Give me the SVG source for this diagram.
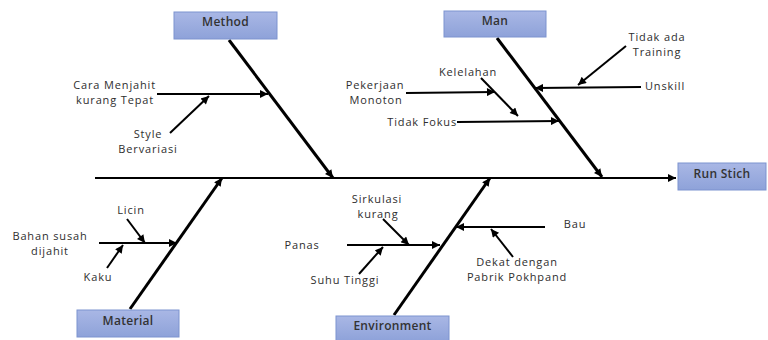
<svg xmlns="http://www.w3.org/2000/svg" width="768" height="340" viewBox="0 0 768 340">
<defs>
<linearGradient id="boxg" x1="0" y1="0" x2="0" y2="1">
<stop offset="0" stop-color="#a9b7e5"/>
<stop offset="1" stop-color="#8ea2d9"/>
</linearGradient>
<marker id="ah" viewBox="0 0 10 10" refX="10" refY="5" markerWidth="10" markerHeight="8" markerUnits="userSpaceOnUse" orient="auto">
<path d="M0,0 L10,5 L0,10 z" fill="#000"/>
</marker>
</defs>
<style>
.box{fill:url(#boxg);stroke:#7d93cf;stroke-width:1}
.t{font-family:"Open Sans","Liberation Sans",sans-serif;font-size:11px;fill:#2e2e2e;letter-spacing:0.85px}
.bt{font-family:"Open Sans","Liberation Sans",sans-serif;font-size:12px;font-weight:600;fill:#333;text-anchor:middle;letter-spacing:0.3px}
.bone{stroke:#000;stroke-width:3;fill:none}
.sub{stroke:#000;stroke-width:2;fill:none}
.arr{marker-end:url(#ah)}
</style>
<rect width="768" height="340" fill="#fff"/>
<g id="connectors">
<line class="sub arr" x1="95" y1="178" x2="676" y2="178"/>
<line class="bone arr" x1="229" y1="40" x2="333" y2="178"/>
<line class="bone arr" x1="497" y1="38" x2="602" y2="177"/>
<line class="bone arr" x1="130" y1="309" x2="222" y2="178"/>
<line class="bone arr" x1="394" y1="315" x2="490" y2="178"/>
<line class="sub arr" x1="157" y1="94" x2="268" y2="94"/>
<line class="sub arr" x1="170" y1="133" x2="209" y2="96"/>
<line class="sub arr" x1="406" y1="93" x2="495" y2="92"/>
<line class="sub arr" x1="481" y1="78" x2="518" y2="116"/>
<line class="sub arr" x1="457" y1="122" x2="559" y2="121"/>
<line class="sub arr" x1="641" y1="87" x2="535" y2="88"/>
<line class="sub arr" x1="626" y1="46" x2="578" y2="85"/>
<line class="sub arr" x1="99" y1="243" x2="177" y2="243"/>
<line class="sub arr" x1="127" y1="219" x2="145" y2="243"/>
<line class="sub arr" x1="107" y1="268" x2="123" y2="245"/>
<line class="sub arr" x1="383" y1="219" x2="409" y2="245"/>
<line class="sub arr" x1="347" y1="245" x2="440" y2="245"/>
<line class="sub arr" x1="359" y1="274" x2="383" y2="247"/>
<line class="sub arr" x1="545" y1="227" x2="456" y2="227"/>
<line class="sub arr" x1="513" y1="257" x2="491" y2="229"/>
</g>
<g id="method"><rect class="box" x="174" y="12" width="103" height="27"/><text class="bt" x="225.5" y="26">Method</text></g>
<g id="man"><rect class="box" x="444" y="11" width="102" height="26"/><text class="bt" x="495" y="25">Man</text></g>
<g id="material"><rect class="box" x="77" y="310" width="102" height="27"/><text class="bt" x="128" y="325">Material</text></g>
<g id="environment"><rect class="box" x="336" y="316" width="113" height="25"/><text class="bt" x="392.5" y="330">Environment</text></g>
<g id="run-stich"><rect class="box" x="678" y="163" width="88" height="27"/><text class="bt" x="722" y="178">Run Stich</text></g>
<g id="cara-menjahit"><text class="t" text-anchor="end" x="156" y="89">Cara Menjahit<tspan x="154" dy="15">kurang Tepat</tspan></text></g>
<g id="style-bervariasi"><text class="t" text-anchor="middle" x="148" y="138">Style<tspan x="148" dy="15">Bervariasi</tspan></text></g>
<g id="pekerjaan-monoton"><text class="t" text-anchor="middle" x="375" y="89">Pekerjaan<tspan x="376" dy="15">Monoton</tspan></text></g>
<g id="kelelahan"><text class="t" text-anchor="middle" x="468" y="76">Kelelahan</text></g>
<g id="tidak-fokus"><text class="t" text-anchor="end" x="457" y="126">Tidak Fokus</text></g>
<g id="unskill"><text class="t" x="645" y="90">Unskill</text></g>
<g id="tidak-ada-training"><text class="t" text-anchor="middle" x="657" y="41">Tidak ada<tspan x="657" dy="15">Training</tspan></text></g>
<g id="bahan-susah"><text class="t" text-anchor="middle" x="50" y="240">Bahan susah<tspan x="50" dy="15">dijahit</tspan></text></g>
<g id="licin"><text class="t" text-anchor="middle" x="131" y="214">Licin</text></g>
<g id="kaku"><text class="t" text-anchor="middle" x="98" y="281">Kaku</text></g>
<g id="sirkulasi-kurang"><text class="t" text-anchor="middle" x="377" y="203">Sirkulasi<tspan x="378" dy="15">kurang</tspan></text></g>
<g id="panas"><text class="t" text-anchor="middle" x="302" y="249">Panas</text></g>
<g id="suhu-tinggi"><text class="t" text-anchor="middle" x="345" y="284">Suhu Tinggi</text></g>
<g id="bau"><text class="t" text-anchor="middle" x="575" y="228">Bau</text></g>
<g id="dekat-dengan"><text class="t" text-anchor="middle" x="517" y="266">Dekat dengan<tspan x="517" dy="15">Pabrik Pokhpand</tspan></text></g>
</svg>
